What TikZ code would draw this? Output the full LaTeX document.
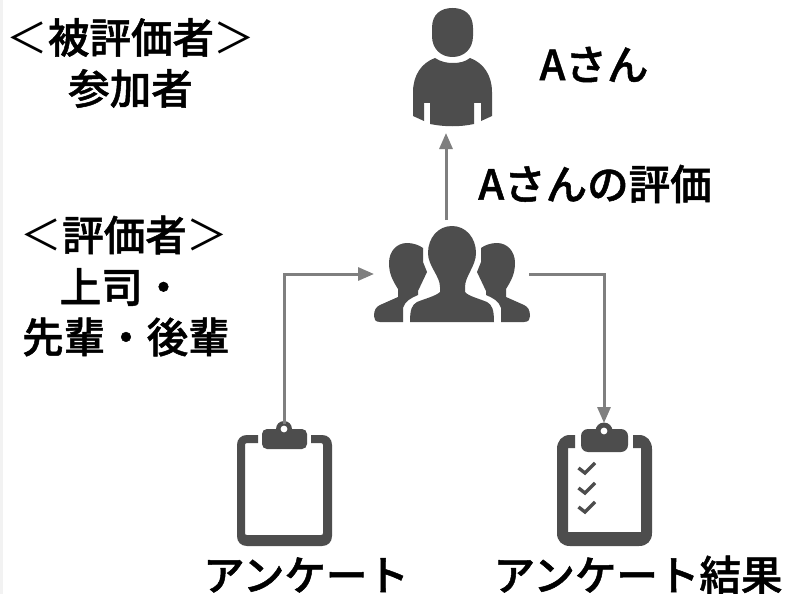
\documentclass[tikz,border=0pt]{standalone}
\usepackage{fontspec}
\newfontfamily\cjk[RawFeature={embolden=1.2}]{Noto Sans CJK JP Medium}
\newfontfamily\cjkthin{Noto Sans CJK JP}
\usetikzlibrary{arrows.meta}
\definecolor{icon}{HTML}{4D4D4D}
\definecolor{conn}{HTML}{7F7F7F}
\definecolor{strip}{HTML}{F2F2F2}
\tikzset{
  lbl/.style={font=\cjk\fontsize{41.5}{50}\selectfont,text=black,inner sep=0pt,align=center},
  conline/.style={draw=conn,line width=3pt,-{Triangle[length=16pt,width=13pt]}},
  iconfill/.style={fill=icon,draw=none},
  holefill/.style={fill=white,draw=none},
  tick/.style={draw=icon,line width=3.4pt}
}
\newcommand{\lb}{{\cjkthin ＜}}
\newcommand{\rb}{{\cjkthin ＞}}
\begin{document}
\begin{tikzpicture}[x=1pt,y=-1pt]
\useasboundingbox (0,0) rectangle (793,594);
\fill[white] (0,0) rectangle (793,594);
\fill[strip] (0,0) rectangle (3,594);
% person
\fill[iconfill] (432,28) .. controls (432,14) and (441,8) .. (452.500,8) .. controls (464,8) and (473,14) .. (473,28)
  -- (473,36) .. controls (473,49) and (464,57) .. (452.500,57) .. controls (441,57) and (432,49) .. (432,36) -- cycle;
\fill[iconfill] (435,58) .. controls (441,62) and (447,63) .. (453,63) .. controls (459,63) and (465,62) .. (470,58)
  .. controls (484,63) and (492,76) .. (492,92) -- (492,116) -- (481,121) -- (481,103) -- (474,103) -- (474,124)
  .. controls (460,127) and (445,127) .. (430,124) -- (430,103) -- (424,103) -- (424,121) -- (413,116) -- (413,92)
  .. controls (413,76) and (421,63) .. (435,58) -- cycle;
% group centre
\fill[iconfill] (452,226) .. controls (466,226) and (476,238) .. (476,253) .. controls (476,266) and (465,276) .. (465,287)
  -- (465,292) .. controls (468,296) and (480,299) .. (487,302) .. controls (492,305) and (494,309) .. (494,322)
  -- (410,322) .. controls (410,309) and (412,305) .. (417,302) .. controls (424,299) and (436,296) .. (440,292)
  -- (440,287) .. controls (440,276) and (428,266) .. (428,253) .. controls (428,238) and (438,226) .. (452,226) -- cycle;
% group left
\fill[iconfill] (407,243) .. controls (413,243) and (419,245) .. (423,248) -- (423,262) -- (427,272) -- (418,291) -- (418,295)
  .. controls (411,298) and (405,301) .. (403,308) -- (403,322) -- (380,322) .. controls (375,322) and (374,319) .. (374,316)
  .. controls (374,310) and (376,307) .. (380,305) -- (398,297) -- (398,289) .. controls (393,281) and (389,274) .. (389,263)
  .. controls (389,251) and (397,243) .. (407,243) -- cycle;
% group right
\fill[iconfill] (497,243) .. controls (491,243) and (485,245) .. (481,248) -- (481,262) -- (477,272) -- (486,291) -- (486,295)
  .. controls (493,298) and (499,301) .. (501,308) -- (501,322) -- (524,322) .. controls (529,322) and (530,319) .. (530,316)
  .. controls (530,310) and (528,307) .. (524,305) -- (506,297) -- (506,289) .. controls (511,281) and (515,274) .. (515,263)
  .. controls (515,251) and (507,243) .. (497,243) -- cycle;
% clipboard 1
\fill[iconfill] (258,435) -- (247,435) .. controls (241,435) and (237,439) .. (237,445) -- (237,536)
  .. controls (237,542) and (241,546) .. (247,546) -- (322,546) .. controls (328,546) and (332,542) .. (332,536) -- (332,445)
  .. controls (332,439) and (328,435) .. (322,435) -- (311,435) -- (311,443) -- (321,443) .. controls (322.500,443) and (323,444) .. (323,445)
  -- (323,533) .. controls (323,534.500) and (322.500,535) .. (321,535) -- (247,535) .. controls (245.500,535) and (245,534.500) .. (245,533)
  -- (245,445) .. controls (245,444) and (245.500,443) .. (247,443) -- (258,443) -- cycle;
\fill[iconfill,rounded corners=5pt] (262,429) rectangle (307,449);
\fill[iconfill] (284,429) circle (8);
\fill[holefill] (284,429) circle (3.400);
% clipboard 2
\fill[iconfill] (575,435) -- (570,435) .. controls (562,435) and (557,441) .. (557,449) -- (557,533)
  .. controls (557,541) and (562,546) .. (570,546) -- (639,546) .. controls (647,546) and (652,541) .. (652,533) -- (652,449)
  .. controls (652,441) and (647,435) .. (639,435) -- (633,435) -- (633,448) -- (641,448) -- (641,532) -- (568,532) -- (568,448) -- (575,448) -- cycle;
\fill[iconfill,rounded corners=7pt] (581,429) rectangle (628,452);
\fill[iconfill] (604,431) circle (8.500);
\fill[holefill] (604,431) circle (3.400);
\foreach \yy in {468,488,507}{
  \draw[tick] (578.500,\yy) -- (585,\yy+5) -- (595,\yy-5);
}
% connector anchors
\coordinate (person) at (446,133);
\coordinate (groupTop) at (446,220);
\coordinate (groupL) at (374,274);
\coordinate (groupR) at (529,274);
\coordinate (clipA) at (284,424);
\coordinate (clipB) at (604,423);
\draw[conline] (groupTop) -- (person);
\draw[conline] (clipA) |- (groupL);
\draw[conline] (groupR) -| (clipB);
% labels
\node[lbl] (t1) at (131,37.500) {\lb 被評価者\rb};
\node[lbl] (t2) at (130.500,88.500) {参加者};
\node[lbl] (t3) at (594,64.500) {Aさん};
\node[lbl] (t4) at (595,184) {Aさんの評価};
\node[lbl] (t5) at (124.500,235) {\lb 評価者\rb};
\node[lbl] (t6) at (122,287) {上司・};
\node[lbl] (t7) at (126,337) {先輩・後輩};
\node[lbl] (t8) at (306,575) {アンケート};
\node[lbl] (t9) at (638,575) {アンケート結果};
\end{tikzpicture}
\end{document}
